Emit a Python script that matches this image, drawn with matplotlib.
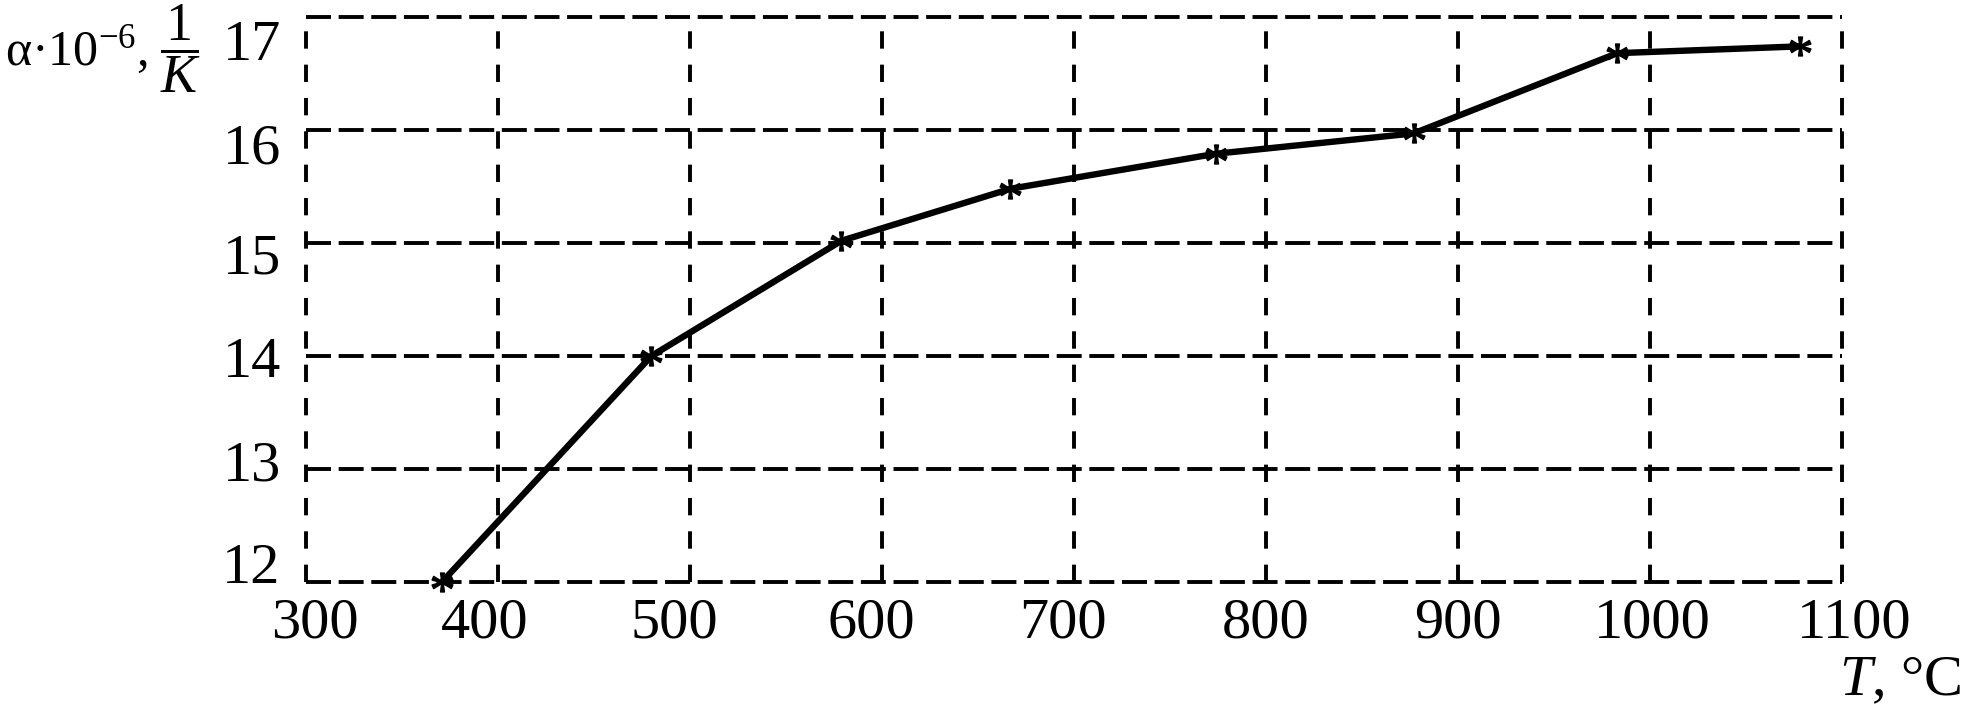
import matplotlib
matplotlib.use("Agg")
import matplotlib.pyplot as plt
import matplotlib.transforms as mtransforms

# ---- data ----
temperature_c = [371, 480, 579, 667, 774, 877, 983, 1078]
alpha_e6 = [12.0, 14.0, 15.02, 15.48, 15.79, 15.97, 16.68, 16.74]
x_ticks = [300, 400, 500, 600, 700, 800, 900, 1000, 1100]
y_ticks = [12, 13, 14, 15, 16, 17]
x_tick_labels = ["300", "400", "500", "600", "700", "800", "900", "1000", "1100"]
y_tick_labels = ["12", "13", "14", "15", "16", "17"]

plt.rcParams["font.family"] = ["Liberation Serif", "DejaVu Serif"]
plt.rcParams["mathtext.fontset"] = "custom"
plt.rcParams["mathtext.rm"] = "Liberation Serif"
plt.rcParams["mathtext.it"] = "Liberation Serif:italic"
plt.rcParams["mathtext.bf"] = "Liberation Serif:bold"
plt.rcParams["lines.scale_dashes"] = False

DPI = 100
fig = plt.figure(figsize=(19.64, 7.07), dpi=DPI)
ax = fig.add_axes([0.15565, 0.17680, 0.78223, 0.79915])
ax.set_xlim(300, 1100)
ax.set_ylim(12, 17)
for s in ax.spines.values():
    s.set_visible(False)

# dashed grid (including frame)
for xv in x_ticks:
    ax.axvline(xv, color="black", lw=2.8, dashes=(12.5, 11.5), clip_on=False, zorder=1)
for yv in y_ticks:
    ax.axhline(yv, color="black", lw=2.8, dashes=(18, 5.5), clip_on=False, zorder=1)

ax.plot(temperature_c, alpha_e6, color="black", lw=4.6, zorder=3, clip_on=False,
        solid_capstyle="round", solid_joinstyle="round")
ax.plot(temperature_c, alpha_e6, linestyle="none", marker="$*$", ms=15,
        color="black", zorder=4, clip_on=False)

ax.set_xticks(x_ticks)
ax.set_xticklabels(x_tick_labels)
ax.set_yticks(y_ticks)
ax.set_yticklabels(y_tick_labels)
ax.tick_params(axis="both", length=0, labelsize=42)
ax.tick_params(axis="x", pad=11.5)
ax.tick_params(axis="y", pad=18)

# per-label nudges (pixels) to follow the reference's hand placement
x_nudge = [9, -13, -15, -10, -11, 0, 0, 2, 12]
y_nudge = [19, 9, -1, -10, -13, -23]
for t, dx in zip(ax.xaxis.get_major_ticks(), x_nudge):
    t.label1.set_transform(t.label1.get_transform() +
                           mtransforms.ScaledTranslation(dx / DPI, 0, fig.dpi_scale_trans))
for t, dy in zip(ax.yaxis.get_major_ticks(), y_nudge):
    t.label1.set_transform(t.label1.get_transform() +
                           mtransforms.ScaledTranslation(0, dy / DPI, fig.dpi_scale_trans))

fig.text(5 / 1964, 1 - 65 / 707, "α·10$^{-6}$,",
         fontsize=36, ha="left", va="baseline")
fig.text(201 / 1964, 1 - 65 / 707, "$\\dfrac{1}{K}$",
         fontsize=39, ha="right", va="baseline")
fig.text(1962 / 1964, 1 - 695 / 707, r"$T$, °C", fontsize=42, ha="right", va="baseline")

fig.savefig("out.png", dpi=DPI, facecolor="white")
